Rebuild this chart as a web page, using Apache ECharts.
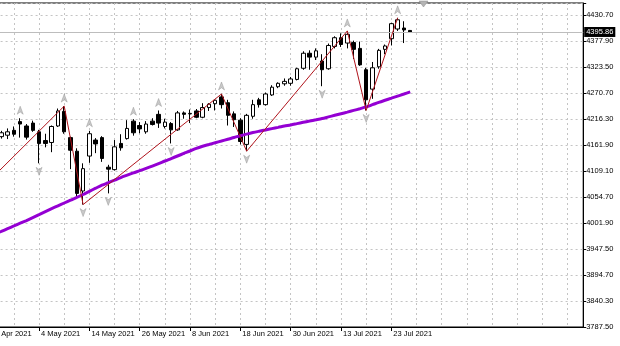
<!DOCTYPE html>
<html><head><meta charset="utf-8">
<script src="https://cdn.jsdelivr.net/npm/echarts@6/dist/echarts.min.js"></script>
<style>html,body{margin:0;padding:0;background:#fff}#c{width:620px;height:346px}</style>
</head><body><div id="c"></div>
<script>
// ---- data (one entry per trading day, 22 Apr 2021 .. 28 Jul 2021) ----
const dates = ['22 Apr 2021','23 Apr 2021','26 Apr 2021','27 Apr 2021','28 Apr 2021','29 Apr 2021','30 Apr 2021',
'3 May 2021','4 May 2021','5 May 2021','6 May 2021','7 May 2021','10 May 2021','11 May 2021','12 May 2021','13 May 2021','14 May 2021',
'17 May 2021','18 May 2021','19 May 2021','20 May 2021','21 May 2021','24 May 2021','25 May 2021','26 May 2021','27 May 2021','28 May 2021',
'1 Jun 2021','2 Jun 2021','3 Jun 2021','4 Jun 2021','7 Jun 2021','8 Jun 2021','9 Jun 2021','10 Jun 2021','11 Jun 2021','14 Jun 2021',
'15 Jun 2021','16 Jun 2021','17 Jun 2021','18 Jun 2021','21 Jun 2021','22 Jun 2021','23 Jun 2021','24 Jun 2021','25 Jun 2021','28 Jun 2021',
'29 Jun 2021','30 Jun 2021','1 Jul 2021','2 Jul 2021','6 Jul 2021','7 Jul 2021','8 Jul 2021','9 Jul 2021','12 Jul 2021','13 Jul 2021',
'14 Jul 2021','15 Jul 2021','16 Jul 2021','19 Jul 2021','20 Jul 2021','21 Jul 2021','22 Jul 2021','23 Jul 2021','26 Jul 2021','27 Jul 2021','28 Jul 2021'];

const opens  = [null,null,4180,4183,4193,4211,4202,4208,4190,4172,4168,4202,4232,4178,4150,4068,4140,
4173,4178,4117,4112,4166,4176,4212,4203,4190,4212,
4226,4201,4207,4194,4229,4227,4233,4220,4240,4248,
4262,4250,4227,4214,4164,4222,4256,4246,4266,4283,
4289,4290,4298,4321,4352,4344,4336,4320,4366,4384,
4373,4374,4362,4318,4278,4324,4360,4382,4402,4404,4399];
const highs  = [null,null,4192,4197,4201,4218,4206,4213,4194,4186,4203,4238,4243,4180,4156,4125,4192,
4177,4181,4122,4173,4185,4214,4216,4210,4212,4218,
4234,4217,4210,4233,4232,4236,4237,4249,4249,4256,
4268,4256,4232,4218,4227,4256,4260,4271,4286,4292,
4300,4303,4322,4356,4358,4362,4350,4372,4387,4393,
4398,4378,4376,4322,4334,4361,4370,4415,4425,4418,4400];
const lows   = [null,null,4176,4175,4180,4178,4174,4190,4125,4158,4148,4200,4186,4113,4054,4040,4126,
4146,4128,4063,4110,4151,4174,4182,4187,4186,4203,
4198,4197,4166,4192,4217,4208,4218,4218,4233,4234,
4238,4203,4200,4164,4150,4217,4240,4244,4264,4280,
4285,4285,4296,4318,4318,4338,4284,4318,4362,4365,
4362,4340,4326,4234,4258,4320,4350,4368,4398,4373,4395];
const closes = [null,null,4188,4190,4185,4206,4179,4193,4166,4166,4201,4233,4190,4152,4063,4114,4186,
4165,4135,4113,4159,4157,4197,4188,4196,4206,4205,
4208,4210,4194,4229,4226,4228,4220,4240,4247,4255,
4246,4224,4215,4170,4224,4246,4246,4268,4282,4290,
4294,4299,4320,4352,4344,4357,4318,4368,4384,4370,
4391,4360,4328,4256,4322,4358,4367,4413,4421,4400,4395.86];

// purple moving average
const ma = [3973.3,3979.1,3984.6,3990.2,3995.8,4001.5,4007.1,4012.9,4019.1,4025.5,4031.6,4037.4,4043.2,4049.0,4054.7,4060.7,4067.3,
4073.7,4079.9,4085.0,4090.2,4095.6,4100.5,4105.3,4109.8,4114.5,4119.3,
4124.4,4129.8,4134.9,4140.1,4145.3,4150.4,4155.8,4160.1,4163.8,4167.5,
4171.0,4174.7,4178.2,4182.0,4185.3,4188.4,4191.2,4193.9,4196.6,4199.1,
4201.8,4204.2,4206.9,4209.6,4212.1,4214.7,4217.4,4220.7,4224.0,4227.3,
4230.6,4234.1,4237.6,4241.3,4245.9,4250.6,4255.0,4259.3,4263.6,4267.9,4272.3];

// zigzag vertices (index into dates, price)
const zigzagIdx = [0, 12, 15, 37, 41, 57, 60, 65];
const zigzagVal = [4088, 4243, 4040, 4268, 4150, 4398, 4234, 4425];

// fractal arrows (index into dates)
const fractalUpIdx   = [5, 12, 16, 23, 27, 37, 57, 65];
const fractalDownIdx = [8, 15, 19, 29, 41, 53, 60];

// price axis labels
const yTickLabels = ['3787.50','3840.30','3894.70','3947.50','4001.90','4054.70','4109.10','4161.90','4216.30','4270.70','4323.50','4377.90','4430.70'];
const bidPrice = 4395.86;
const emptySlots = 27; // blank bars to the right of the last candle

// ---- build ----
const cats = dates.concat(new Array(emptySlots).fill(''));
const yMin = 3787.5, yStep = 53.6, yMax = 4455.6;
const candleData = opens.map((o, i) => o == null ? ['-','-','-','-'] : [o, closes[i], lows[i], highs[i]]);
const fUp = fractalUpIdx.map(i => [i, highs[i]]);
const fDn = fractalDownIdx.map(i => [i, lows[i]]);
const zz = zigzagIdx.map((i, k) => [i, zigzagVal[k]]);
const font = 'Liberation Sans, Arial, sans-serif';
const arrowPath = 'path://M4,0 L8,9 L4,6.5 L0,9 Z';

const chart = echarts.init(document.getElementById('c'), null, {renderer: 'canvas'});
chart.setOption({
  animation: false,
  backgroundColor: '#fff',
  grid: {left: -14.4, right: 36.8, top: 3, bottom: 19, containLabel: false, outerBoundsMode: 'none',
    show: true, borderColor: '#000', borderWidth: 1, backgroundColor: 'transparent'},
  graphic: [{type: 'polygon', shape: {points: [[419, 1], [428, 1], [423.5, 7]]}, style: {fill: '#b4b4b4', stroke: '#8c8c8c', lineWidth: 0.5}, z: 10}],
  xAxis: {
    type: 'category', data: cats, boundaryGap: true,
    axisLine: {show: true, lineStyle: {color: '#000', width: 1}},
    axisTick: {show: true, alignWithLabel: true, length: 4, interval: (i) => i % 8 === 0 && i < dates.length, lineStyle: {color: '#000'}},
    axisLabel: {show: true, interval: (i) => i % 8 === 0 && i < dates.length, align: 'left', margin: 3, padding: [0,0,0,2],
      fontSize: 7.5, fontFamily: font, color: '#000', hideOverlap: false},
    splitLine: {show: true, alignWithLabel: true, interval: (i) => i % 4 === 0, lineStyle: {color: '#c4c4c4', type: [2, 3], width: 1}}
  },
  yAxis: {
    type: 'value', position: 'right', min: yMin, max: yMax, interval: yStep, scale: true,
    axisLine: {show: true, lineStyle: {color: '#000', width: 1}},
    axisTick: {show: true, length: 3, lineStyle: {color: '#000'}},
    axisLabel: {show: true, margin: 3, fontSize: 7.5, fontFamily: font, color: '#000',
      formatter: (v) => { const k = Math.round((v - yMin) / yStep); return (k >= 0 && k < yTickLabels.length && Math.abs(v - (yMin + k * yStep)) < 0.05) ? yTickLabels[k] : ''; }},
    splitLine: {show: true, lineStyle: {color: '#c4c4c4', type: [2, 3], width: 1}}
  },
  series: [
    {type: 'line', data: [], z: 1, silent: true,
      markLine: {silent: true, symbol: 'none', animation: false,
        lineStyle: {color: '#bdbdbd', type: 'solid', width: 1},
        label: {show: true, position: 'end', distance: 1, formatter: bidPrice.toFixed(2), color: '#fff', backgroundColor: '#000',
          padding: [1, 2, 1, 2], fontSize: 7.5, fontFamily: font},
        data: [{yAxis: bidPrice}]}},
    {type: 'candlestick', data: candleData, z: 3, barWidth: 4,
      itemStyle: {color: '#fff', color0: '#000', borderColor: '#000', borderColor0: '#000', borderWidth: 1}},
    {type: 'line', data: ma, z: 4, symbol: 'none', smooth: 0.3,
      lineStyle: {color: '#9400d3', width: 3}},
    {type: 'line', data: zz, z: 5, symbol: 'none', connectNulls: true,
      lineStyle: {color: '#b0141c', width: 1}},
    {type: 'scatter', data: fUp, z: 6, symbol: arrowPath, symbolSize: [6, 8], symbolOffset: [0, -8],
      itemStyle: {color: '#bcbcbc', borderColor: '#8a8a8a', borderWidth: 0.5}},
    {type: 'scatter', data: fDn, z: 6, symbol: arrowPath, symbolSize: [6, 8], symbolRotate: 180, symbolOffset: [0, 8],
      itemStyle: {color: '#bcbcbc', borderColor: '#8a8a8a', borderWidth: 0.5}}
  ]
});
</script></body></html>
